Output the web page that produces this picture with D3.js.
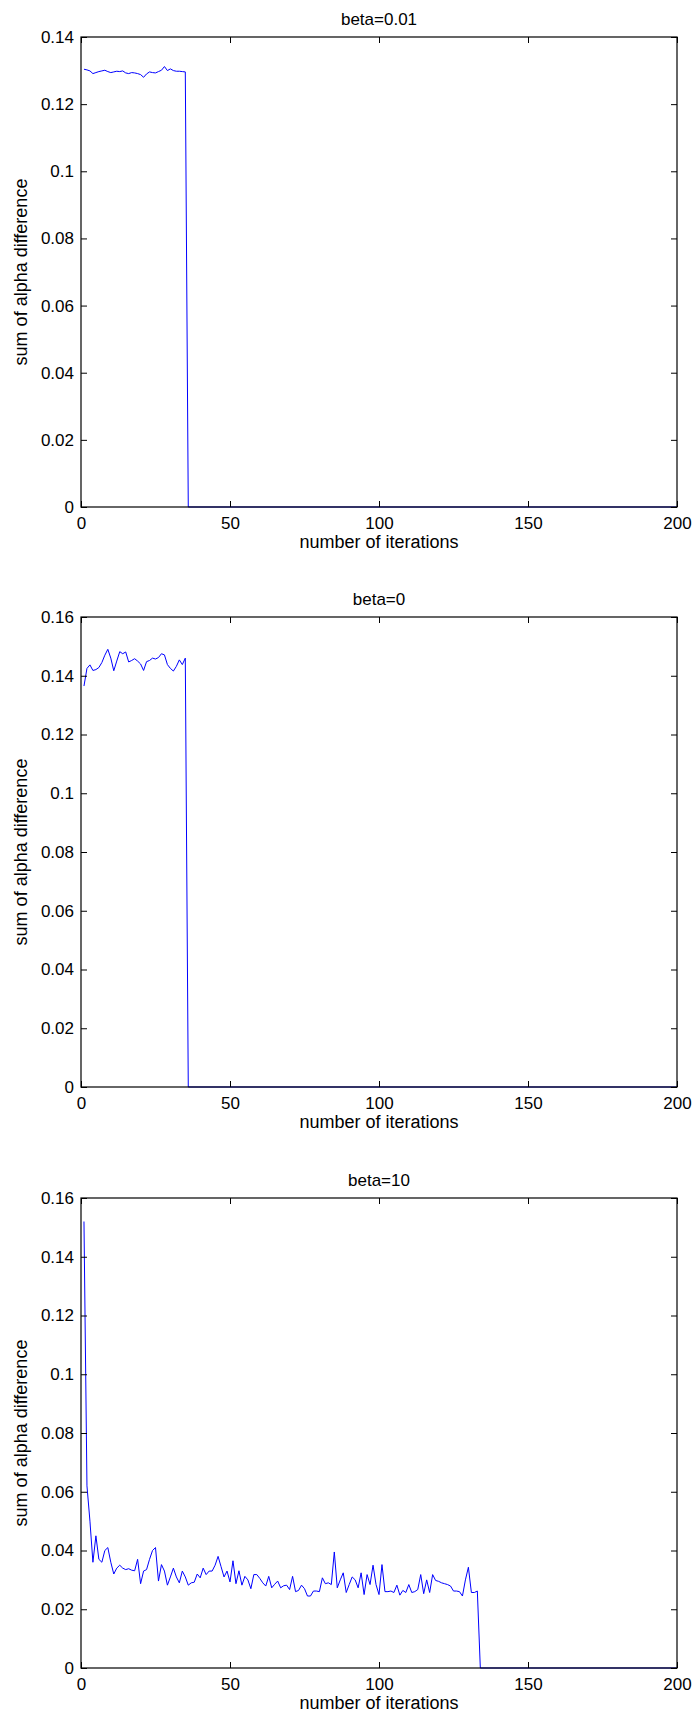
<!DOCTYPE html>
<html>
<head>
<meta charset="utf-8">
<script src="https://cdn.jsdelivr.net/npm/d3@7"></script>
<style>
  html, body { margin: 0; padding: 0; background: #fff; }
  svg { display: block; font-family: "Liberation Sans", Arial, Helvetica, sans-serif; }
</style>
</head>
<body>
<div id="chart"></div>
<script>
// iterations 1..n, then the series sits at zero up to 200
const beta001Values = [
  0.1304, 0.1302, 0.1299, 0.1291, 0.1294, 0.1297, 0.1299, 0.1301, 0.1297, 0.1294,
  0.1296, 0.1298, 0.1297, 0.1299, 0.1293, 0.1291, 0.1294, 0.1293, 0.1291, 0.1288,
  0.1280, 0.1290, 0.1296, 0.1294, 0.1293, 0.1297, 0.1301, 0.1312, 0.1300, 0.1305,
  0.1300, 0.1298, 0.1298, 0.1297, 0.1296
];
const beta001Tail = [[36, 0], [200, 0]];

const beta0Values = [
  0.1365, 0.1425, 0.1437, 0.1418, 0.1421, 0.1428, 0.1445, 0.1470, 0.1490, 0.1460,
  0.1417, 0.1450, 0.1482, 0.1475, 0.1481, 0.1447, 0.1452, 0.1458, 0.1450, 0.1440,
  0.1418, 0.1448, 0.1452, 0.1460, 0.1457, 0.1462, 0.1475, 0.1471, 0.1438, 0.1425,
  0.1416, 0.1432, 0.1454, 0.1438, 0.1460
];
const beta0Tail = [[36, 0], [200, 0]];

const beta10Values = [
  0.152, 0.062, 0.050, 0.036, 0.045, 0.037, 0.036, 0.040, 0.041, 0.036,
  0.032, 0.034, 0.035, 0.034, 0.0335, 0.0338, 0.0333, 0.0331, 0.037, 0.0287,
  0.033, 0.0335, 0.037, 0.040, 0.041, 0.0296, 0.0352, 0.033, 0.0282, 0.031,
  0.034, 0.031, 0.029, 0.033, 0.031, 0.0282, 0.029, 0.0292, 0.032, 0.0307,
  0.034, 0.0318, 0.033, 0.033, 0.035, 0.038, 0.0345, 0.031, 0.033, 0.0293,
  0.0365, 0.0287, 0.0331, 0.0282, 0.0312, 0.030, 0.027, 0.0318, 0.0318, 0.0305,
  0.029, 0.0279, 0.0312, 0.0273, 0.0285, 0.0296, 0.0273, 0.028, 0.0282, 0.0267,
  0.0312, 0.026, 0.0264, 0.0282, 0.027, 0.0245, 0.0245, 0.0262, 0.0262, 0.026,
  0.0307, 0.0287, 0.029, 0.0284, 0.0395, 0.0273, 0.030, 0.0324, 0.0257, 0.0284,
  0.031, 0.030, 0.0273, 0.0324, 0.025, 0.0318, 0.0284, 0.035, 0.0284, 0.025,
  0.0352, 0.026, 0.026, 0.0262, 0.0257, 0.0282, 0.0248, 0.0264, 0.0257, 0.0284,
  0.0257, 0.026, 0.0267, 0.0318, 0.0253, 0.030, 0.0257, 0.0318, 0.0298, 0.0295,
  0.029, 0.0287, 0.0284, 0.0279, 0.0262, 0.0262, 0.026, 0.0245, 0.030, 0.0343,
  0.0257, 0.0257, 0.0262
];
const beta10Tail = [[134, 0], [200, 0]];

const titles = ["beta=0.01", "beta=0", "beta=10"];
const xTicks = [0, 50, 100, 150, 200];
const yTicks014 = [0, 0.02, 0.04, 0.06, 0.08, 0.1, 0.12, 0.14];
const yTicks016 = [0, 0.02, 0.04, 0.06, 0.08, 0.1, 0.12, 0.14, 0.16];
const xLabel = "number of iterations";
const yLabel = "sum of alpha difference";

const W = 698, H = 1717;
const left = 81, right = 677, plotH = 470;
const tops = [37, 617, 1198];
const tickLen = 6;

function toPoints(values, tail) {
  return values.map((v, i) => [i + 1, v]).concat(tail);
}

const panels = [
  { title: titles[0], pts: toPoints(beta001Values, beta001Tail), yMax: 0.14, yTicks: yTicks014 },
  { title: titles[1], pts: toPoints(beta0Values, beta0Tail), yMax: 0.16, yTicks: yTicks016 },
  { title: titles[2], pts: toPoints(beta10Values, beta10Tail), yMax: 0.16, yTicks: yTicks016 }
];

const svg = d3.select('#chart')
  .append('svg')
  .attr('width', W)
  .attr('height', H);

const fmt = v => String(+v.toFixed(2));

panels.forEach((p, k) => {
  const top = tops[k], bottom = top + plotH;
  const x = d3.scaleLinear().domain([0, 200]).range([left, right]);
  const y = d3.scaleLinear().domain([0, p.yMax]).range([bottom, top]);
  const g = svg.append('g');

  // data line first so axes sit on top like matlab
  g.append('path')
    .datum(p.pts)
    .attr('fill', 'none')
    .attr('stroke', '#0000ff')
    .attr('stroke-width', 1)
    .attr('d', d3.line().x(d => x(d[0])).y(d => y(d[1])));

  // bottom and left axes with inward ticks
  const xAxis = g.append('g')
    .attr('transform', `translate(0,${bottom})`)
    .call(d3.axisBottom(x).tickValues(xTicks).tickSizeInner(-tickLen).tickSizeOuter(0).tickPadding(10));
  g.append('g')
    .attr('transform', `translate(${left},0)`)
    .call(d3.axisLeft(y).tickValues(p.yTicks).tickFormat(fmt).tickSizeInner(-tickLen).tickSizeOuter(0).tickPadding(7));

  // mirrored ticks on top and right
  g.append('g')
    .attr('transform', `translate(0,${top})`)
    .call(d3.axisTop(x).tickValues(xTicks).tickSizeInner(-tickLen).tickSizeOuter(0).tickFormat(''));
  g.append('g')
    .attr('transform', `translate(${right},0)`)
    .call(d3.axisRight(y).tickValues(p.yTicks).tickSizeInner(-tickLen).tickSizeOuter(0).tickFormat(''));

  g.selectAll('.domain').remove();
  g.selectAll('.tick line').attr('stroke', '#000');
  g.selectAll('.tick text')
    .attr('fill', '#000')
    .style('font-size', '17px');
  xAxis.selectAll('.tick text').attr('dy', '0.71em');

  g.append('rect')
    .attr('x', left)
    .attr('y', top)
    .attr('width', right - left)
    .attr('height', plotH)
    .attr('fill', 'none')
    .attr('stroke', '#000')
    .attr('stroke-width', 1.2);

  g.append('text')
    .attr('x', (left + right) / 2)
    .attr('y', top - 12)
    .attr('text-anchor', 'middle')
    .style('font-size', '17px')
    .text(p.title);

  g.append('text')
    .attr('x', (left + right) / 2)
    .attr('y', bottom + 41)
    .attr('text-anchor', 'middle')
    .style('font-size', '18px')
    .text(xLabel);

  g.append('text')
    .attr('transform', `translate(27,${(top + bottom) / 2}) rotate(-90)`)
    .attr('text-anchor', 'middle')
    .style('font-size', '18px')
    .text(yLabel);
});
</script>
</body>
</html>
